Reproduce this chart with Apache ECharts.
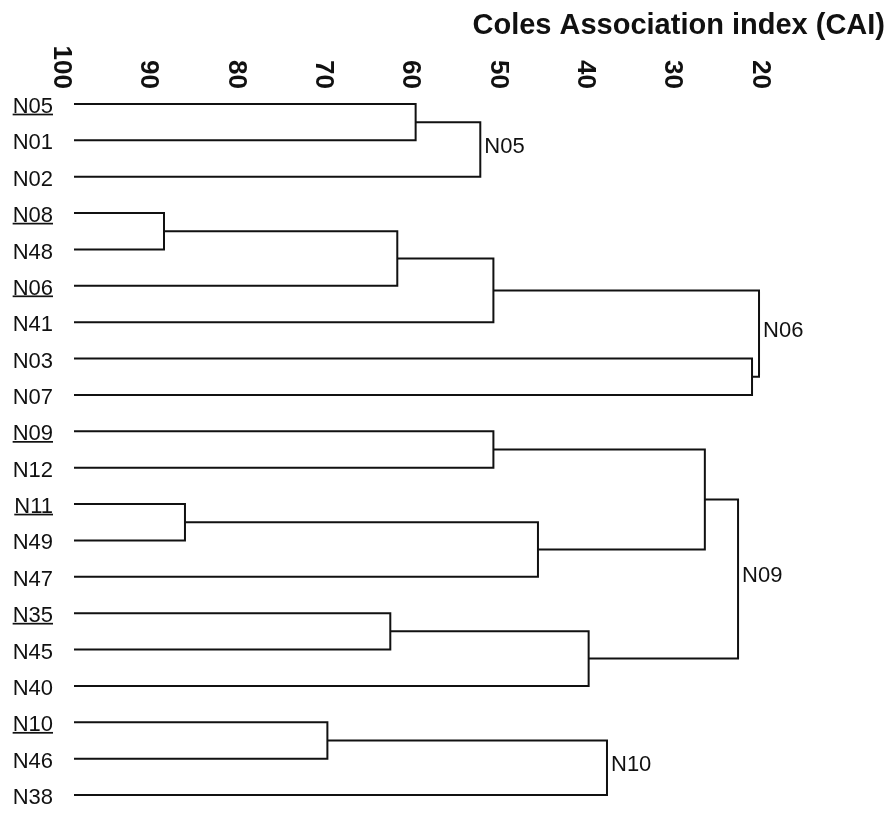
<!DOCTYPE html>
<html>
<head>
<meta charset="utf-8">
<script src="https://cdn.jsdelivr.net/npm/echarts@6/dist/echarts.min.js"></script>
<style>
  html, body { margin: 0; padding: 0; background: #fff; }
  #chart { width: 893px; height: 827px; }
</style>
</head>
<body>
<div id="chart"></div>
<script>
// Stations in dendrogram order, top to bottom
const leaves = ['N05','N01','N02','N08','N48','N06','N41','N03','N07','N09',
                'N12','N11','N49','N47','N35','N45','N40','N10','N46','N38'];
// Representative station of each subgroup (underlined)
const representatives = ['N05','N08','N06','N09','N11','N35','N10'];

// Agglomeration steps: node m<i> joins mergeLeft[i] and mergeRight[i] at CAI mergeCAI[i]
const mergeLeft  = ['N05','m0','N08','m2','m3','N03','m4','N09','N11','m8','m7','N35','m11','m10','N10','m14'];
const mergeRight = ['N01','N02','N48','N06','N41','N07','m5','N12','N49','N47','m9','N45','N40','m12','N46','N38'];
const mergeCAI   = [60.9, 53.5, 89.7, 63.0, 52.0, 22.4, 21.6, 52.0, 87.3, 46.9, 27.8, 63.8, 41.1, 24.0, 71.0, 39.0];

// Group names written beside the last join of each group
const groupNodes = ['m1','m6','m13','m15'];
const groupNames = ['N05','N06','N09','N10'];

// CAI scale tick values
const caiTicks = [100, 90, 80, 70, 60, 50, 40, 30, 20];

const FONT = '"Liberation Sans", Arial, Helvetica, sans-serif';
const INK = '#111';

// Small image stretched behind underlined labels: a bar along its bottom edge
const underline = document.createElement('canvas');
underline.width = 4;
underline.height = 32;
(function () {
  const ctx = underline.getContext('2d');
  ctx.fillStyle = INK;
  ctx.fillRect(0, 27, 4, 2);
})();

// Pixel position of a node: leaves sit at CAI 100, joins at their CAI,
// vertically halfway between their two branches
function nodePos(id, api) {
  if (id.charAt(0) !== 'm') return api.coord([100, leaves.indexOf(id)]);
  const i = +id.slice(1);
  const a = nodePos(mergeLeft[i], api);
  const b = nodePos(mergeRight[i], api);
  return [api.coord([mergeCAI[i], 0])[0], (a[1] + b[1]) / 2];
}

function renderJoin(params, api) {
  const i = params.dataIndex;
  const a = nodePos(mergeLeft[i], api);
  const b = nodePos(mergeRight[i], api);
  const x = api.coord([api.value(0), 0])[0];
  const children = [{
    type: 'polyline',
    shape: { points: [a, [x, a[1]], [x, b[1]], b] },
    style: { stroke: INK, lineWidth: 2, fill: null }
  }];
  const g = groupNodes.indexOf('m' + i);
  if (g >= 0) {
    children.push({
      type: 'text',
      x: x + 4,
      y: (a[1] + b[1]) / 2 - 3,
      style: {
        text: groupNames[g],
        fill: INK,
        fontSize: 22,
        fontFamily: FONT,
        align: 'left',
        verticalAlign: 'middle'
      }
    });
  }
  return { type: 'group', children: children };
}

const chart = echarts.init(document.getElementById('chart'), null, { renderer: 'canvas' });

chart.setOption({
  backgroundColor: '#fff',
  animation: false,
  title: {
    text: 'Coles Association index (CAI)',
    right: 8,
    top: 11,
    padding: 0,
    textStyle: { fontSize: 29, fontWeight: 'bold', fontFamily: FONT, color: INK }
  },
  grid: { left: 74, right: 120, top: 104, bottom: 32, containLabel: false },
  xAxis: {
    type: 'value',
    position: 'top',
    inverse: true,
    min: Math.min.apply(null, caiTicks),
    max: Math.max.apply(null, caiTicks),
    interval: caiTicks[0] - caiTicks[1],
    axisLine: { show: false },
    axisTick: { show: false },
    splitLine: { show: false },
    axisLabel: {
      rotate: 90,
      verticalAlign: 'top',
      margin: 15,
      fontSize: 26,
      fontWeight: 'bold',
      fontFamily: FONT,
      color: INK,
      showMinLabel: true,
      showMaxLabel: true
    }
  },
  yAxis: {
    type: 'category',
    data: leaves,
    inverse: true,
    boundaryGap: false,
    axisLine: { show: false },
    axisTick: { show: false },
    splitLine: { show: false },
    axisLabel: {
      margin: 21,
      interval: 0,
      formatter: function (name) {
        return representatives.indexOf(name) >= 0 ? '{u|' + name + '}' : '{n|' + name + '}';
      },
      rich: {
        n: { fontSize: 22, fontFamily: FONT, color: INK, lineHeight: 26, padding: [6, 0, 0, 0] },
        u: { fontSize: 22, fontFamily: FONT, color: INK, lineHeight: 26, padding: [6, 0, 0, 0],
             backgroundColor: { image: underline } }
      }
    }
  },
  series: [{
    type: 'custom',
    coordinateSystem: 'cartesian2d',
    clip: false,
    silent: true,
    renderItem: renderJoin,
    encode: { x: 0, y: 1 },
    data: mergeCAI.map(function (v) { return [v, 0]; })
  }]
});
</script>
</body>
</html>
